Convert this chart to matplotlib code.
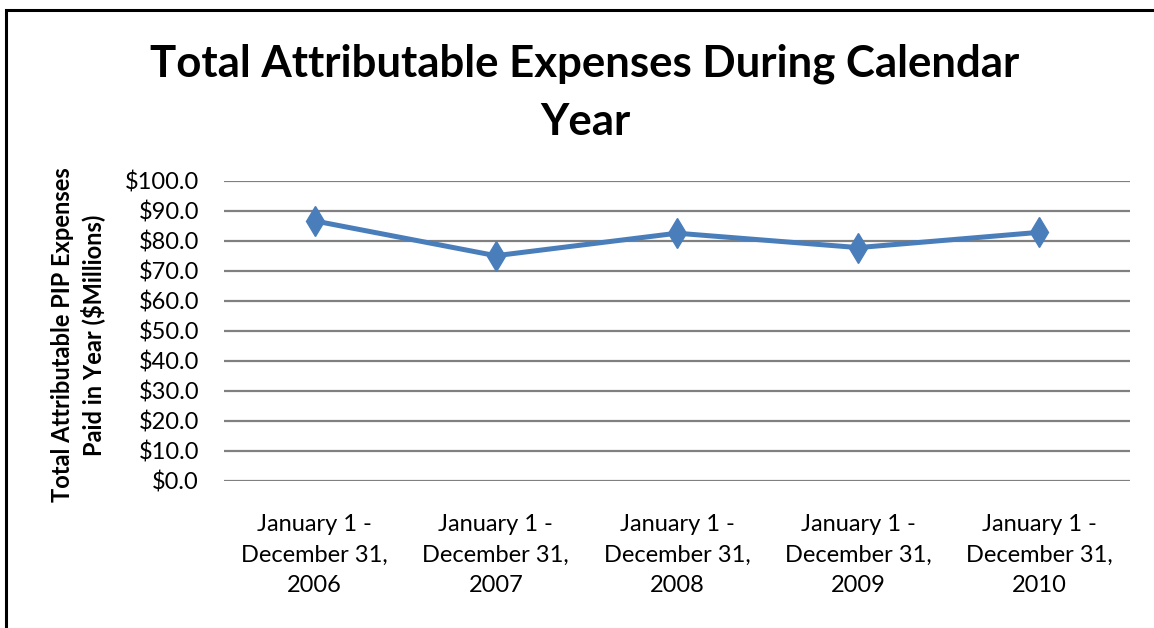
import matplotlib.pyplot as plt
from matplotlib.patches import Rectangle

plt.rcParams['font.family'] = ['Lato', 'DejaVu Sans']

# data
periods = ['January 1 -\nDecember 31,\n2006', 'January 1 -\nDecember 31,\n2007',
           'January 1 -\nDecember 31,\n2008', 'January 1 -\nDecember 31,\n2009',
           'January 1 -\nDecember 31,\n2010']
expenses = [86.7, 75.1, 82.6, 77.8, 82.9]
y_ticks = [0, 10, 20, 30, 40, 50, 60, 70, 80, 90, 100]

fig = plt.figure(figsize=(11.54, 6.28), dpi=100)
ax = fig.add_axes([224 / 1154, 1 - 481 / 628, 906 / 1154, 300 / 628])

x = list(range(len(periods)))
ax.plot(x, expenses, color='#4A7EBB', linewidth=3.6, marker='d', markersize=15,
        markerfacecolor='#4A7EBB', markeredgecolor='#4A7EBB', zorder=3)

ax.set_xlim(-0.5, len(periods) - 0.5)
ax.set_ylim(0, 100)
ax.set_yticks(y_ticks)
ax.set_yticklabels(['${:.1f}'.format(v) for v in y_ticks], fontsize=17)
ax.set_xticks(x)
ax.set_xticklabels(periods, fontsize=17, linespacing=1.55)
ax.tick_params(axis='y', length=0, pad=18)
ax.tick_params(axis='x', length=0, pad=24)
ax.grid(axis='y', color='#808080', linewidth=1.6)
ax.set_axisbelow(True)
for s in ax.spines.values():
    s.set_visible(False)

# y axis title
fig.text(78 / 1154, 1 - 335 / 628, 'Total Attributable PIP Expenses\nPaid in Year ($Millions)',
         rotation=90, ha='center', va='center', fontsize=17, fontweight='bold',
         linespacing=1.25)

fig.text(585 / 1154, 1 - 93 / 628, 'Total Attributable Expenses During Calendar\nYear',
         ha='center', va='center', fontsize=31.5, fontweight='bold', linespacing=1.55)

# outer chart frame (only left and top edges visible in the crop)
fig.patches.append(Rectangle((6 / 1154, -0.1), 1.2, 1 - 10 / 628 + 0.1,
                             transform=fig.transFigure, fill=False,
                             edgecolor='black', linewidth=2.2))

fig.savefig('out.png', dpi=100)
